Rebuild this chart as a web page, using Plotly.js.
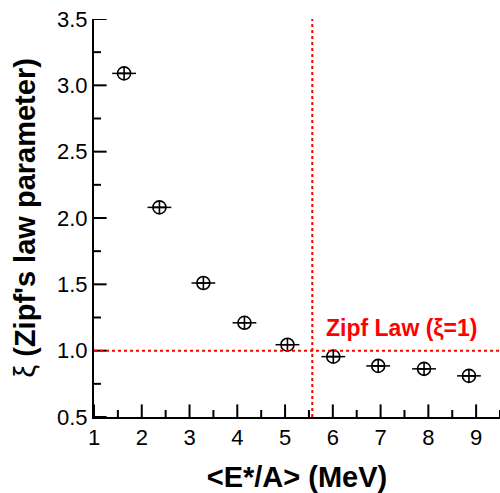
<!DOCTYPE html>
<html><head><meta charset="utf-8">
<script src="https://cdn.plot.ly/plotly-3.0.1.min.js"></script>
<style>html,body{margin:0;padding:0;background:#fff}</style>
</head><body>
<div id="chart" style="width:500px;height:493px"></div>
<script>
const energy = [1.63, 2.37, 3.29, 4.15, 5.05, 6.01, 6.95, 7.91, 8.85];
const xi = [3.09, 2.08, 1.51, 1.21, 1.045, 0.955, 0.885, 0.863, 0.81];
const zipfXi = 1.0;
const transitionE = 5.57;
const xRange = [1, 9.5];
const yRange = [0.5, 3.5];
const xMajorTicks = [1, 2, 3, 4, 5, 6, 7, 8, 9];
const xMinorTicks = [1.5, 2.5, 3.5, 4.5, 5.5, 6.5, 7.5, 8.5, 9.5];
const yMajorTicks = [0.5, 1.0, 1.5, 2.0, 2.5, 3.0, 3.5];
const yMinorTicks = [0.75, 1.25, 1.75, 2.25, 2.75, 3.25];

const font = 'Liberation Sans, Arial, sans-serif';

function tickTrace(xs, ys, symbol, size) {
  return {x: xs, y: ys, type: 'scatter', mode: 'markers', cliponaxis: true, hoverinfo: 'skip',
          showlegend: false,
          marker: {symbol: symbol, size: size, color: '#000', line: {width: 2, color: '#000'}}};
}

const data = [
  tickTrace(xMajorTicks, xMajorTicks.map(() => yRange[0]), 'line-ns', 18),
  tickTrace(xMinorTicks, xMinorTicks.map(() => yRange[0]), 'line-ns', 10),
  tickTrace(yMajorTicks.map(() => xRange[0]), yMajorTicks, 'line-ew', 18),
  tickTrace(yMinorTicks.map(() => xRange[0]), yMinorTicks, 'line-ew', 10),
  {x: energy, y: xi, type: 'scatter', mode: 'markers', hoverinfo: 'skip',
   marker: {symbol: 'line-ew', size: 17, color: '#000', line: {width: 1.5, color: '#000'}},
   showlegend: false},
  {x: energy, y: xi, type: 'scatter', mode: 'markers',
   marker: {symbol: 'circle-cross-open', size: 13, color: '#000', line: {width: 1.6, color: '#000'}},
   showlegend: false}
];

const layout = {
  width: 500, height: 493,
  margin: {l: 94, r: 0, t: 19, b: 76},
  paper_bgcolor: '#fff', plot_bgcolor: '#fff',
  font: {family: font, color: '#000', size: 22},
  xaxis: {
    showgrid: false, zeroline: false, showline: true, linewidth: 2, linecolor: '#000', ticks: '',
    range: xRange, tickmode: 'array', tickvals: xMajorTicks,
    tickfont: {size: 22, family: font, color: '#000'},
    title: {text: '<b>&lt;E*/A&gt; (MeV)</b>', font: {size: 29, family: font, color: '#000'}, standoff: 24}
  },
  yaxis: {
    showgrid: false, zeroline: false, showline: true, linewidth: 2, linecolor: '#000', ticks: '',
    range: yRange, tickmode: 'array', tickvals: yMajorTicks,
    tickformat: '.1f', tickfont: {size: 22, family: font, color: '#000'},
    title: {text: '<span style="font-weight:normal">ξ</span> <b>(Zipf\'s law parameter)</b>', font: {size: 29, family: font, color: '#000'}, standoff: 13}
  },
  shapes: [
    {type: 'line', xref: 'paper', x0: 0, x1: 1, yref: 'y', y0: zipfXi, y1: zipfXi,
     line: {color: '#ff0000', width: 2, dash: 'dot'}},
    {type: 'line', xref: 'x', x0: transitionE, x1: transitionE, yref: 'paper', y0: 0, y1: 1,
     line: {color: '#ff0000', width: 2, dash: 'dot'}}
  ],
  annotations: [{
    x: 7.43, y: 1.17, xref: 'x', yref: 'y', yanchor: 'middle', showarrow: false,
    text: '<b>Zipf Law (ξ=1)</b>', font: {size: 23, color: '#ff0000', family: font}
  }]
};
Plotly.newPlot('chart', data, layout, {displayModeBar: false, staticPlot: true});
</script>
</body></html>
